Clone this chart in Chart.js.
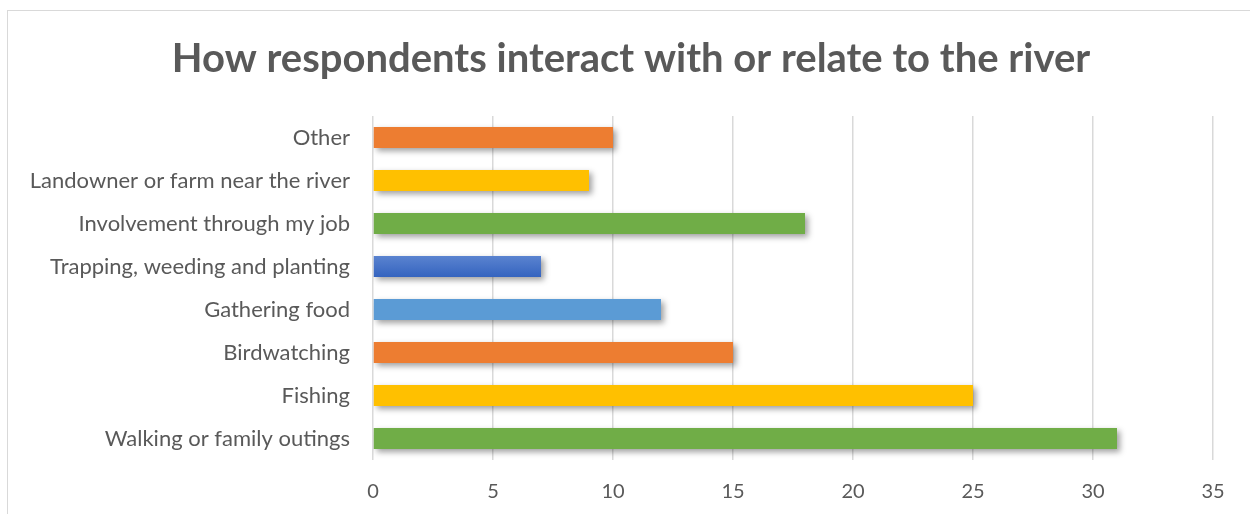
<!DOCTYPE html>
<html>
<head>
<meta charset="utf-8">
<script src="https://cdn.jsdelivr.net/npm/chart.js@4.4.1/dist/chart.umd.min.js"></script>
<style>
  html, body { margin: 0; padding: 0; background: #fff; }
  #wrap { position: relative; width: 1250px; height: 514px; overflow: hidden; }
  #frame { position: absolute; left: 7px; top: 10px; width: 1300px; height: 600px;
           border-top: 1.5px solid #d9d9d9; border-left: 1.5px solid #d9d9d9; box-sizing: border-box; }
  canvas { position: absolute; left: 0; top: 0; }
</style>
</head>
<body>
<div id="wrap">
  <div id="frame"></div>
  <canvas id="chart" width="1250" height="514"></canvas>
</div>
<script>
// Survey responses, listed top to bottom
const categories = [
  'Other',
  'Landowner or farm near the river',
  'Involvement through my job',
  'Trapping, weeding and planting',
  'Gathering food',
  'Birdwatching',
  'Fishing',
  'Walking or family outings'
];
const responses = [10, 9, 18, 7, 12, 15, 25, 31];
const barColors = ['#ED7D31', '#FFC000', '#70AD47', '#4472C4', '#5B9BD5', '#ED7D31', '#FFC000', '#70AD47'];
const xTicks = [0, 5, 10, 15, 20, 25, 30, 35];

const FONT = 'Lato, "Open Sans", sans-serif';
const TEXT = '#595959';

// Soft drop shadow behind the bars
const barShadow = {
  id: 'barShadow',
  beforeDatasetDraw(chart) {
    const ctx = chart.ctx;
    ctx.save();
    ctx.shadowColor = 'rgba(0,0,0,0.38)';
    ctx.shadowBlur = 6;
    ctx.shadowOffsetX = 3;
    ctx.shadowOffsetY = 3;
  },
  afterDatasetDraw(chart) {
    chart.ctx.restore();
  }
};

// Centre the title over the framed area rather than the full canvas
const titleCentre = {
  id: 'titleCentre',
  afterLayout(chart) {
    if (chart.titleBlock) chart.titleBlock.left = 49;
  }
};

// The dark blue bar is shaded with a light-to-dark vertical gradient
function fillFor(context) {
  const base = barColors[context.dataIndex];
  const chart = context.chart;
  if (base !== '#4472C4' || !chart.chartArea || !chart.scales.y) return base;
  const yc = chart.scales.y.getPixelForValue(context.dataIndex);
  const g = chart.ctx.createLinearGradient(0, yc - 11, 0, yc + 11);
  g.addColorStop(0, '#5B84D0');
  g.addColorStop(1, '#3463BF');
  return g;
}

new Chart(document.getElementById('chart'), {
  type: 'bar',
  data: {
    labels: categories,
    datasets: [{
      data: responses,
      backgroundColor: fillFor,
      borderWidth: 0,
      barPercentage: 0.49,
      categoryPercentage: 1.0
    }]
  },
  plugins: [barShadow, titleCentre],
  options: {
    indexAxis: 'y',
    responsive: false,
    animation: false,
    layout: { padding: { left: 0, right: 37, top: 0, bottom: 0 } },
    plugins: {
      legend: { display: false },
      tooltip: { enabled: false },
      title: {
        display: true,
        text: 'How respondents interact with or relate to the river',
        color: TEXT,
        font: { family: FONT, size: 40, weight: 'bold', lineHeight: 1.2 },
        padding: { top: 35, bottom: 33 }
      }
    },
    scales: {
      x: {
        min: 0,
        max: 35,
        afterBuildTicks(scale) { scale.ticks = xTicks.map(v => ({ value: v })); },
        afterFit(scale) { scale.height = 54; },
        grid: { color: '#d9d9d9', lineWidth: 1.5, drawTicks: false },
        border: { display: false },
        ticks: { color: TEXT, padding: 20, font: { family: FONT, size: 20 } }
      },
      y: {
        afterFit(scale) { scale.width = 373; },
        grid: { display: false },
        border: { display: false },
        ticks: { color: TEXT, padding: 15, font: { family: FONT, size: 22 } }
      }
    }
  }
});
</script>
</body>
</html>
